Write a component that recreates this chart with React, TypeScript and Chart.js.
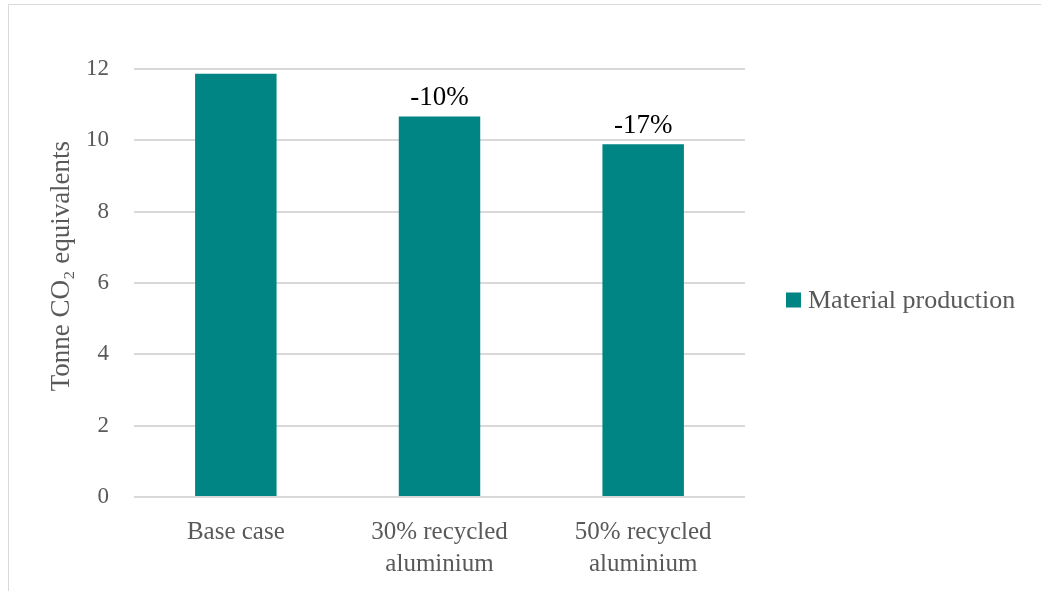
import React, { useEffect, useRef } from "react";
import { Chart, registerables } from "chart.js";

Chart.register(...registerables);

const categories: (string | string[])[] = ["Base case", ["30% recycled", "aluminium"], ["50% recycled", "aluminium"]];
const seriesName = "Material production";
const values = [11.87, 10.67, 9.89];
const changeLabels = ["", "-10%", "-17%"];
const yTicks = [0, 2, 4, 6, 8, 10, 12];
const yTitle = "     Tonne CO₂ equivalents";

const FONT = "'Liberation Serif', serif";
const TEAL = "#018484";
const GREY = "#595959";

const changeLabelPlugin = {
  id: "changeLabels",
  afterDatasetsDraw(chart: any) {
    const meta = chart.getDatasetMeta(0);
    const ctx = chart.ctx;
    ctx.save();
    ctx.font = `27px ${FONT}`;
    ctx.fillStyle = "#000000";
    ctx.textAlign = "center";
    ctx.textBaseline = "alphabetic";
    meta.data.forEach((bar: any, i: number) => {
      const t = changeLabels[i];
      if (t) ctx.fillText(t, bar.x, bar.y - 11);
    });
    ctx.restore();
  },
};

const sideLegendPlugin = {
  id: "sideLegend",
  afterDraw(chart: any) {
    const ds = chart.data.datasets[0];
    const { right, top, bottom } = chart.chartArea;
    const ctx = chart.ctx;
    const cy = (top + bottom) / 2 + 17;
    ctx.save();
    ctx.fillStyle = ds.backgroundColor;
    ctx.fillRect(right + 41, cy - 7.5, 15, 15);
    ctx.font = `26px ${FONT}`;
    ctx.fillStyle = GREY;
    ctx.textAlign = "left";
    ctx.textBaseline = "middle";
    ctx.fillText(ds.label, right + 63, cy + 1);
    ctx.restore();
  },
};

export default function App() {
  const ref = useRef<HTMLCanvasElement>(null);
  useEffect(() => {
    if (!ref.current) return;
    const chart = new Chart(ref.current, {
      type: "bar",
      data: {
        labels: categories as any,
        datasets: [
          {
            label: seriesName,
            data: values,
            backgroundColor: TEAL,
            borderWidth: 0,
            categoryPercentage: 0.8,
            barPercentage: 0.5,
          },
        ],
      },
      options: {
        animation: false,
        responsive: false,
        layout: { padding: { left: 46, top: 69, bottom: 0, right: 296 } },
        plugins: {
          legend: { display: false },
          tooltip: { enabled: false },
        },
        scales: {
          x: {
            grid: { display: false },
            border: { display: false },
            ticks: {
              color: GREY,
              font: { family: FONT, size: 25, lineHeight: 1.28 },
              padding: 11,
              maxRotation: 0,
              autoSkip: false,
            },
            afterFit: (s: any) => {
              s.height = 94;
            },
          },
          y: {
            min: 0,
            max: 12,
            afterBuildTicks: (s: any) => {
              s.ticks = yTicks.map((v) => ({ value: v }));
            },
            grid: { color: "#d9d9d9", lineWidth: 2, drawTicks: false },
            border: { display: false },
            ticks: {
              color: GREY,
              font: { family: FONT, size: 23 },
              padding: 25,
            },
            title: {
              display: true,
              text: yTitle,
              color: GREY,
              font: { family: FONT, size: 27, lineHeight: 1.2 },
              padding: 0,
            },
            afterFit: (s: any) => {
              s.width = 88;
            },
          },
        },
      },
      plugins: [changeLabelPlugin, sideLegendPlugin],
    });
    return () => chart.destroy();
  }, []);

  return (
    <div
      style={{
        position: "fixed",
        left: 0,
        top: 0,
        width: 1041,
        height: 591,
        overflow: "hidden",
        background: "#fff",
      }}
    >
      <div
        style={{
          position: "absolute",
          left: 8,
          top: 4,
          width: 1100,
          height: 700,
          border: "1.5px solid #d9d9d9",
        }}
      />
      <canvas ref={ref} width={1041} height={591} style={{ position: "absolute", left: 0, top: 0 }} />
    </div>
  );
}
